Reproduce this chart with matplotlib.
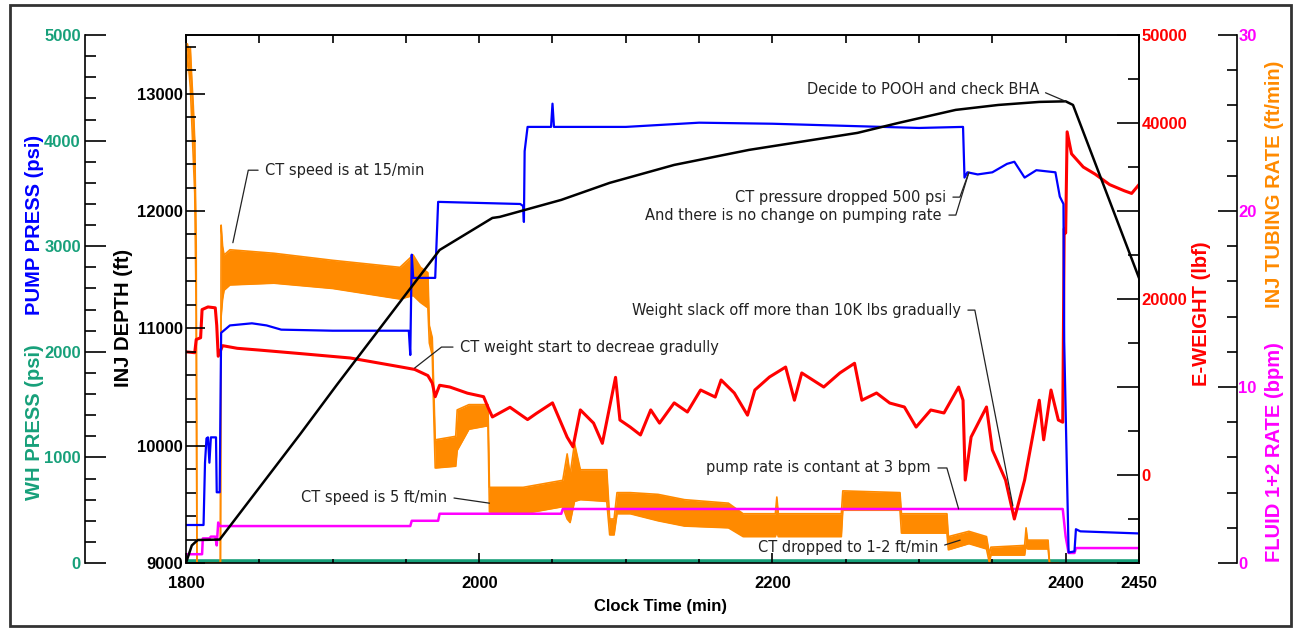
import numpy as np
import matplotlib.pyplot as plt
from matplotlib import font_manager
from matplotlib.font_manager import FontProperties
from matplotlib.patches import Rectangle
from matplotlib.ticker import MultipleLocator, FuncFormatter

# ---- values ----
# INJ DEPTH (ft)
depth_t = [1800, 1804, 1808, 1823, 1878, 1903, 1953, 1973, 2009, 2014, 2056, 2089, 2133,
           2184, 2258, 2286, 2325, 2354, 2382, 2400, 2405, 2450]
depth_v = [9000, 9150, 9196, 9200, 10100, 10520, 11340, 11668, 11941, 11950, 12095, 12240, 12393,
           12521, 12666, 12751, 12862, 12904, 12930, 12935, 12904, 11430]

# PUMP PRESS (psi)
pump_t = [1800, 1812, 1813, 1814, 1815, 1816, 1817, 1820.5, 1821, 1823, 1824, 1830, 1845, 1855,
          1865, 1900, 1952, 1953, 1954, 1955, 1970, 1972, 2028, 2030, 2030.5, 2031, 2033, 2049,
          2050, 2051, 2100, 2150, 2200, 2250, 2300, 2330, 2331, 2333, 2340, 2350, 2360, 2365,
          2372, 2380, 2393, 2396, 2398.5, 2399, 2402, 2406, 2407, 2410, 2450]
pump_v = [360, 360, 950, 1180, 1190, 950, 1190, 1190, 670, 670, 2180, 2250, 2270, 2250,
          2210, 2200, 2200, 1970, 2920, 2700, 2700, 3420, 3400, 3380, 3230, 3900, 4130, 4130,
          4350, 4130, 4130, 4170, 4160, 4140, 4120, 4130, 3650, 3700, 3680, 3700, 3780, 3800,
          3650, 3720, 3700, 3470, 3400, 2100, 100, 110, 320, 300, 280]

# WH PRESS (psi)
wh_t = [1800, 2000, 2200, 2400, 2450]
wh_v = [15, 15, 15, 15, 15]

# E-WEIGHT (lbf)
wt_t = [1800, 1806, 1807, 1810, 1811, 1815, 1820, 1821, 1822, 1825, 1835, 1850, 1878, 1912,
        1946, 1956, 1965, 1968, 1970, 1973, 1980, 1992, 2003, 2006, 2009, 2021, 2033, 2039,
        2050, 2060, 2064, 2069, 2078, 2084, 2093, 2096, 2103, 2110, 2117, 2123, 2133, 2142,
        2151, 2161, 2165, 2174, 2183, 2188, 2198, 2209, 2215, 2220, 2235, 2246, 2256, 2261,
        2271, 2280, 2290, 2298, 2308, 2317, 2327, 2330, 2331.5, 2335.5, 2346, 2350, 2359,
        2365, 2372, 2382, 2385, 2390, 2395, 2398, 2399, 2400, 2401, 2404, 2412, 2420, 2430,
        2440, 2445, 2450]
wt_v = [14000, 13900, 15400, 15600, 18800, 19100, 19000, 17000, 13500, 14700, 14400, 14200,
        13800, 13300, 12300, 12000, 11300, 10450, 8900, 10200, 10000, 9300, 8900, 7700, 6600,
        7700, 6300, 7000, 8200, 4300, 3200, 7400, 5900, 3600, 11100, 6250, 5450, 4550, 7400,
        5900, 8200, 7160, 9660, 8860, 10800, 9320, 6800, 9660, 11140, 12270, 8500, 11600,
        10000, 11600, 12700, 8500, 9320, 8180, 7730, 5450, 7390, 7050, 10000, 8500, -570,
        4320, 7730, 2840, -570, -5000, -570, 8500, 4000, 9660, 6250, 6000, 28000, 27500,
        39000, 36500, 35000, 34200, 33000, 32300, 32000, 33000]

# INJ TUBING RATE (ft/min): lower / upper edge of the noisy band
tub_t = [1800, 1801, 1802, 1803, 1804, 1805, 1806, 1807, 1807.5, 1823.5, 1824, 1825, 1826,
         1830, 1860, 1900, 1946, 1955, 1960, 1965, 1966, 1968, 1969, 1970, 1984, 1985, 1993,
         2006, 2007, 2030, 2057, 2060, 2062, 2065, 2069, 2087, 2089, 2092, 2094, 2103, 2122,
         2140, 2170, 2180, 2202, 2203, 2204, 2247, 2248, 2287, 2288, 2319, 2320, 2334, 2346,
         2348, 2349, 2372, 2373, 2374, 2388, 2389, 2395]
tub_lo = [27.5, 28.8, 28.0, 27.0, 25.0, 23.0, 21.0, 14.0, 0, 0, 14.0, 15.0, 15.5,
          15.8, 15.9, 15.6, 15.0, 15.2, 14.8, 14.5, 12.5, 11.8, 8.5, 5.4, 5.5, 6.4, 7.6,
          7.8, 2.9, 2.8, 3.2, 2.5, 2.3, 3.5, 3.6, 3.5, 1.6, 1.6, 2.8, 2.8, 2.4,
          2.1, 2.0, 1.5, 1.5, 1.8, 1.5, 1.5, 3.0, 3.0, 1.7, 1.7, 0.75, 1.1, 0.8,
          0, 0.45, 0.45, 1.0, 0.8, 0.8, 0, 0]
tub_hi = [28.5, 29.5, 29.0, 29.3, 27.5, 26.0, 24.0, 18.0, 0, 0, 19.2, 18.0, 17.5,
          17.8, 17.6, 17.2, 16.8, 17.5, 16.8, 16.5, 13.5, 12.8, 10.0, 7.0, 7.2, 8.7, 9.0,
          9.0, 4.3, 4.3, 4.7, 6.2, 5.0, 6.8, 5.3, 5.3, 2.5, 2.5, 4.0, 4.0, 3.9,
          3.6, 3.4, 2.8, 2.8, 3.75, 2.8, 2.8, 4.1, 4.0, 2.8, 2.8, 1.5, 1.8, 1.5,
          0.5, 0.9, 1.0, 2.0, 1.3, 1.3, 0, 0]

# FLUID 1+2 RATE (bpm)
fl_t = [1800, 1811, 1811.5, 1816, 1817, 1820, 1821, 1822, 1823, 1953, 1954, 1972, 1973,
        2056, 2057, 2398, 2400, 2402, 2406, 2407, 2450]
fl_v = [0.5, 0.5, 1.4, 1.4, 1.5, 1.5, 1.0, 2.3, 2.1, 2.1, 2.4, 2.4, 2.8,
        2.8, 3.07, 3.07, 1.5, 0.57, 0.57, 0.85, 0.85]

x_major = [1800, 2000, 2200, 2400, 2450]
wt_labelled = [0, 20000, 40000, 50000]

BLUE = '#0000ff'
TEAL = '#17a07a'
RED = '#ff0000'
ORANGE = '#ff8a00'
MAGENTA = '#ff00ff'

plt.rcParams['font.family'] = 'Liberation Sans'
plt.rcParams['font.weight'] = 'bold'
plt.rcParams['axes.linewidth'] = 1.2

# a narrow face for the call-outs if one is installed
narrow = [f for f in font_manager.fontManager.ttflist
          if ('Narrow' in f.name or 'Condensed' in f.name or 'condensed' in str(f.stretch))
          and f.weight in (400, 'normal', 'regular') and f.style == 'normal']
if narrow:
    note_fp = FontProperties(fname=narrow[0].fname, size=11.7)
else:
    note_fp = FontProperties(family='Liberation Sans', weight='normal', size=11.5)

fig = plt.figure(figsize=(12.94, 6.29), dpi=100)
ax = fig.add_axes([0.1437, 0.1049, 0.7365, 0.8394])
ax_r = ax.twinx()   # rates (ft/min, bpm)
ax_w = ax.twinx()   # e-weight
ax_p = ax.twinx()   # pressures
ax.set_zorder(5)
ax.patch.set_visible(False)

# depth on the main axes, drawn on top
ax.plot(depth_t, depth_v, color='black', lw=1.8)
ax.set_xlim(1800, 2450)
ax.set_ylim(9000, 13500)
ax.set_xticks(x_major)
ax.set_xticks(np.arange(1800, 2451, 50), minor=True)
ax.set_yticks(np.arange(9000, 13001, 1000))
ax.yaxis.set_minor_locator(MultipleLocator(200))
ax.tick_params(axis='y', which='major', direction='in', length=14, width=1.2, labelsize=12, pad=2)
ax.tick_params(axis='y', which='minor', direction='in', length=7, width=1.2)
ax.tick_params(axis='x', which='major', direction='in', length=7, width=1.2, labelsize=12, pad=9)
ax.tick_params(axis='x', which='minor', direction='in', length=3, width=1.2)
top = ax.secondary_xaxis('top')
top.set_xticks(np.arange(1800, 2451, 50))
top.tick_params(direction='in', length=6, width=1.2, labeltop=False)

# rates: orange band + magenta, green WH pressure underneath
ax_r.plot(wh_t, wh_v, color=TEAL, lw=2.6, transform=ax_p.transData)
ax_r.fill_between(tub_t, tub_lo, tub_hi, color=ORANGE, lw=0)
ax_r.plot(tub_t, tub_lo, color=ORANGE, lw=1.2)
ax_r.plot(tub_t, tub_hi, color=ORANGE, lw=1.2)
ax_r.plot(fl_t, fl_v, color=MAGENTA, lw=1.8)
ax_r.set_ylim(0, 30)
ax_r.set_yticks([0, 10, 20, 30])
ax_r.yaxis.set_minor_locator(MultipleLocator(2))
ax_r.spines['right'].set_position(('axes', 1.1028))
for s in ['left', 'top', 'bottom']:
    ax_r.spines[s].set_visible(False)
ax_r.tick_params(axis='y', which='major', direction='in', length=14, width=1.2,
                 labelsize=12, labelcolor=MAGENTA, pad=1)
ax_r.tick_params(axis='y', which='minor', direction='in', length=7, width=1.2)

# e-weight
ax_w.plot(wt_t, wt_v, color=RED, lw=2.2)
ax_w.set_ylim(-10000, 50000)
ax_w.set_yticks(np.arange(-10000, 50001, 10000))
ax_w.yaxis.set_minor_locator(MultipleLocator(5000))
ax_w.yaxis.set_major_formatter(FuncFormatter(lambda v, p: f'{v:.0f}' if v in wt_labelled else ''))
for s in ['left', 'top', 'bottom']:
    ax_w.spines[s].set_visible(False)
ax_w.tick_params(axis='y', which='major', direction='in', length=16, width=1.2,
                 labelsize=12, labelcolor=RED, pad=2)
ax_w.tick_params(axis='y', which='minor', direction='in', length=8, width=1.2)

# pump pressure on the outer left axis
ax_p.plot(pump_t, pump_v, color=BLUE, lw=1.6)
ax_p.set_ylim(0, 5000)
ax_p.set_yticks(np.arange(0, 5001, 1000))
ax_p.yaxis.set_minor_locator(MultipleLocator(200))
ax_p.yaxis.set_ticks_position('left')
ax_p.spines['left'].set_position(('axes', -0.106))
ax_p.spines['left'].set_visible(True)
for s in ['right', 'top', 'bottom']:
    ax_p.spines[s].set_visible(False)
ax_p.tick_params(axis='y', which='major', direction='in', length=15, width=1.2,
                 labelsize=12, labelcolor=TEAL, pad=3)
ax_p.tick_params(axis='y', which='minor', direction='in', length=8, width=1.2)

# axis titles
lab = dict(rotation=90, ha='center', va='center', fontsize=14.5, fontweight='bold')
fig.text(0.0958, 0.494, 'INJ DEPTH (ft)', color='black', **lab)
fig.text(0.0263, 0.642, 'PUMP PRESS (psi)', color=BLUE, **lab)
fig.text(0.0263, 0.329, 'WH PRESS (psi)', color=TEAL, **lab)
fig.text(0.9289, 0.501, 'E-WEIGHT (lbf)', color=RED, **lab)
fig.text(0.9853, 0.7075, 'INJ TUBING RATE (ft/min)', color=ORANGE, **lab)
fig.text(0.9853, 0.2814, 'FLUID 1+2 RATE (bpm)', color=MAGENTA, **lab)
fig.text(0.5108, 0.035, 'Clock Time (min)', ha='center', va='center', fontsize=12, fontweight='bold')


def note(text, xy, on, xytext, ha, angle=None):
    cs = 'arc3' if angle is None else f'angle,angleA=0,angleB={angle},rad=0'
    ax.annotate(text, xy=xy, xycoords=on.transData, xytext=xytext, textcoords='axes fraction',
                ha=ha, va='center', fontproperties=note_fp, color='#222222',
                arrowprops=dict(arrowstyle='-', color='#222222', lw=0.9, shrinkA=3, shrinkB=0,
                                relpos=(0 if ha == 'left' else 1, 0.5), connectionstyle=cs))


note('CT speed is at 15/min', (1832, 18.2), ax_r, (0.083, 0.744), 'left', 78)
note('CT weight start to decreae gradully', (1956, 12160), ax_w, (0.2875, 0.409), 'left', 38)
note('CT speed is 5 ft/min', (2007, 3.4), ax_r, (0.274, 0.125), 'right')
note('Decide to POOH and check BHA', (2400, 12935), ax, (0.895, 0.896), 'right')
note('CT pressure dropped 500 psi', (2334, 3700), ax_p, (0.7975, 0.693), 'right', 70)
note('And there is no change on pumping rate', (2334, 3700), ax_p, (0.7933, 0.659), 'right', 73)
note('Weight slack off more than 10K lbs gradually', (2364, -3500), ax_w, (0.8132, 0.479), 'right', -79)
note('pump rate is contant at 3 bpm', (2327, 3.07), ax_r, (0.7817, 0.180), 'right', 106)
note('CT dropped to 1-2 ft/min', (2328, 1.3), ax_r, (0.789, 0.030), 'right')

# outer frame
fig.add_artist(Rectangle((0.0077, 0.004), 0.99, 0.988, transform=fig.transFigure,
                         fill=False, lw=2, edgecolor='#333333'))

fig.savefig('out.png', dpi=100)
